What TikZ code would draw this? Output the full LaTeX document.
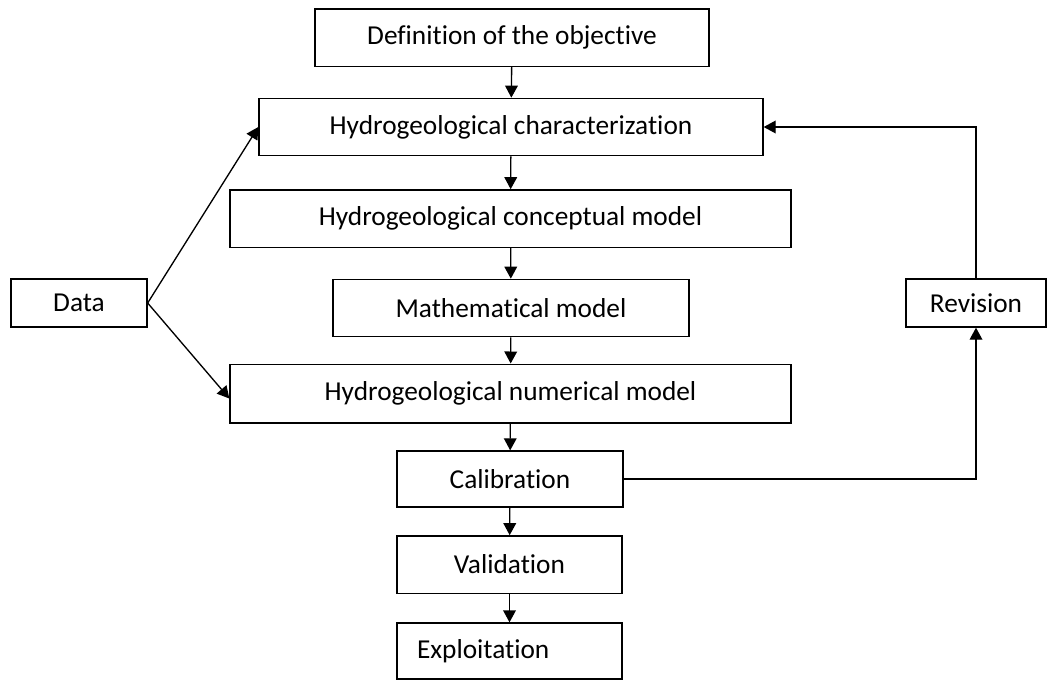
\documentclass[tikz,border=0pt]{standalone}
\usepackage{fontspec}
\setmainfont{Carlito}[Ligatures=NoCommon]
\usetikzlibrary{arrows.meta}

\begin{document}
\begin{tikzpicture}[x=0.75pt,y=0.75pt,yscale=-1,xscale=1,
  box/.style={draw,line width=1pt,inner sep=0.75pt,minimum height=43pt,font=\fontsize{20.5}{24}\selectfont},
  arr/.style={line width=1pt,-{Triangle[width=9.5pt,length=9pt]}}]
%set diagram to the size of the page
\useasboundingbox (0,0) rectangle (1047,679);

% Text Node
\node (obj) [box,minimum width=295.5pt] at (512,37.5) {Definition of the objective};
% Text Node
\node (charac) [box,minimum width=378pt] at (511,127) {Hydrogeological characterization};
% Text Node
\node (concept) [box,minimum width=420.75pt] at (510.5,218.5) {Hydrogeological conceptual model};
% Text Node
\node (math) [box,minimum width=267pt] at (511,308) {Mathematical model};
% Text Node
\node (numer) [box,minimum width=420.75pt,minimum height=44pt] at (510.5,393.5) {Hydrogeological numerical model};
% Text Node
\node (calib) [box,minimum width=169.5pt,minimum height=42pt] at (510,479) {Calibration};
% Text Node
\node (valid) [box,minimum width=168.75pt] at (509.5,564.5) {Validation};
% Text Node
\node (exploit) [box,minimum height=42pt,inner xsep=15pt,text width=138.75pt,align=left] at (509.5,651) {Exploitation};
% Text Node
\node (data) [box,minimum width=102pt,minimum height=36pt] at (79,303) {Data};
% Text Node
\node (revision) [box,minimum width=105pt,minimum height=36pt] at (976,303) {Revision};

%Straight Lines
\draw [arr] (obj) -- (charac);
\draw [arr] (charac) -- (concept);
\draw [arr] (concept) -- (math);
\draw [arr] (math) -- (numer);
\draw [arr] (numer) -- (calib);
\draw [arr] (calib) -- (valid);
\draw [arr] (valid) -- (exploit);
%Straight Lines
\draw [arr] (data.east) -- (charac.west);
\draw [arr] (data.east) -- ([yshift=3.75pt]numer.west);
%Straight Lines
\draw [arr] (calib.east) -| (revision.south);
\draw [arr] (revision.north) |- (charac.east);

\end{tikzpicture}
\end{document}
